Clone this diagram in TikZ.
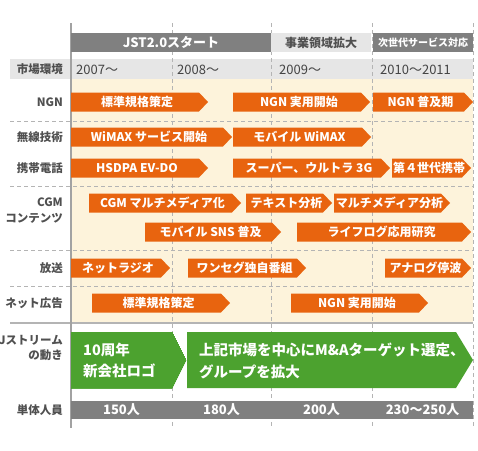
\documentclass[tikz,border=0pt]{standalone}
\usepackage{fontspec}
\setmainfont{Noto Sans CJK JP}
\definecolor{jorange}{HTML}{E8640F}
\definecolor{jgreen}{HTML}{4CA22F}
\definecolor{jgray}{HTML}{808080}
\definecolor{jband}{HTML}{E6E6E6}
\definecolor{jcream}{HTML}{FDF3DB}
\definecolor{jtext}{HTML}{505050}
\definecolor{jline}{HTML}{B4B4B4}
\tikzset{
  rowlabel/.style={anchor=east,text=jtext,align=right,inner sep=0pt,
    font=\bfseries\fontsize{11.5}{15}\selectfont},
  bartext/.style={text=white,inner sep=0pt,font=\bfseries\fontsize{12}{14}\selectfont},
  yeartext/.style={anchor=west,text=jtext!85!black,inner sep=0pt,font=\fontsize{13}{15}\selectfont},
  hdr/.style={minimum height=19pt,inner sep=0pt,font=\bfseries\fontsize{13}{15}\selectfont},
  gridline/.style={jline,line width=1pt,dash pattern=on 4pt off 3pt},
  greentext/.style={anchor=west,align=left,text=white,inner sep=0pt}
}
% orange arrow: name, from x, to x, row y, text
\newcommand{\chevron}[5]{%
  \fill[jorange] (#2,#4-9.5) -- (#3-9,#4-9.5) -- (#3,#4) -- (#3-9,#4+9.5) -- (#2,#4+9.5) -- cycle;
  \node[bartext] (#1) at ({(#2+#3-5)/2},#4) {#5};
}
\begin{document}
\begin{tikzpicture}[x=1pt,y=-1pt]
\useasboundingbox (0,0) rectangle (478,450);
% backgrounds
\fill[jcream] (71,79) rectangle (473,322);
\fill[jband] (10,59) rectangle (473,79);
\foreach \x in {172,271,372,473}
  \draw[gridline] (\x,23) -- (\x,428);
\foreach \y in {121,186,250,286}
  \draw[gridline] (10,\y) -- (473,\y);
\draw[jline,line width=1.5pt] (10,323) -- (473,323);
\draw[jline!90!black,line width=2pt] (71,23) -- (71,428);
% header
\node[hdr,fill=jgray,text=white,minimum width=200pt] (jst) at (171,42.5) {JST2.0スタート};
\node[hdr,fill=jband,text=jtext,minimum width=100pt,font=\bfseries\fontsize{12}{14}\selectfont] (biz) at (321,42.5) {事業領域拡大};
\node[hdr,fill=jgray,text=white,minimum width=100pt,font=\bfseries\fontsize{10}{12}\selectfont] (next) at (423,42.5) {次世代サービス対応};
% years
\foreach \x/\t [count=\i] in {76/2007〜,177/2008〜,279/2009〜,380/2010〜2011}
  \node[yeartext] (yr\i) at (\x,69.5) {\t};
% row labels
\node[rowlabel] (lmkt) at (63,69.5) {市場環境};
\node[rowlabel] (lngn) at (63,102) {NGN};
\node[rowlabel] (lwls) at (63,137) {無線技術};
\node[rowlabel] (lmob) at (63,168) {携帯電話};
\node[rowlabel,font=\bfseries\fontsize{11.5}{16}\selectfont] (lcgm) at (63,211) {CGM\\コンテンツ};
\node[rowlabel] (lbc) at (63,268) {放送};
\node[rowlabel] (lad) at (63,303) {ネット広告};
\node[rowlabel] (ljs) at (63,347.5) {Jストリーム\\の動き};
\node[rowlabel] (lstf) at (63,410) {単体人員};
% orange arrows
\foreach \n/\a/\b/\y/\t in {
  ngnA/71/208/102/標準規格策定, ngnB/233/370/102/NGN 実用開始, ngnC/373/473/102/NGN 普及期,
  wlsA/71/232/137/WiMAX サービス開始, wlsB/233/371/137/モバイル WiMAX,
  mobA/71/208/168/HSDPA EV-DO, mobB/233/390/168/スーパー、ウルトラ 3G, mobC/392/471/168/第４世代携帯,
  cgmA/89/241/203/CGM マルチメディア化, cgmB/246/332/203/テキスト分析, cgmC/334/450/203/マルチメディア分析,
  cgmD/145/281/232/モバイル SNS 普及, cgmE/297/471/232/ライフログ応用研究,
  bcA/71/170/268/ネットラジオ, bcB/188/306/268/ワンセグ独自番組, bcC/385/471/268/アナログ停波,
  adA/92/230/303/標準規格策定, adB/291/428/303/NGN 実用開始}
  \chevron{\n}{\a}{\b}{\y}{\t}
% green arrows
\fill[jgreen] (71,332) -- (172,332) -- (186,360) -- (172,388) -- (71,388) -- cycle;
\fill[jgreen] (187,332) -- (456,332) -- (473,360) -- (456,388) -- (187,388) -- cycle;
\node[greentext,font=\bfseries\fontsize{14.5}{21}\selectfont] (logo) at (83,360) {10周年\\新会社ロゴ};
\node[greentext,font=\bfseries\fontsize{14.5}{22}\selectfont] (mna) at (199,361) {上記市場を中心にM\&Aターゲット選定、\\グループを拡大};
% staff
\fill[jgray] (71,401) rectangle (473,419);
\foreach \x/\t [count=\i] in {121.5/150人,221.5/180人,321.5/200人,422.5/230〜250人}
  \node[bartext,font=\bfseries\fontsize{13}{15}\selectfont] (stf\i) at (\x,410) {\t};
\end{tikzpicture}
\end{document}
